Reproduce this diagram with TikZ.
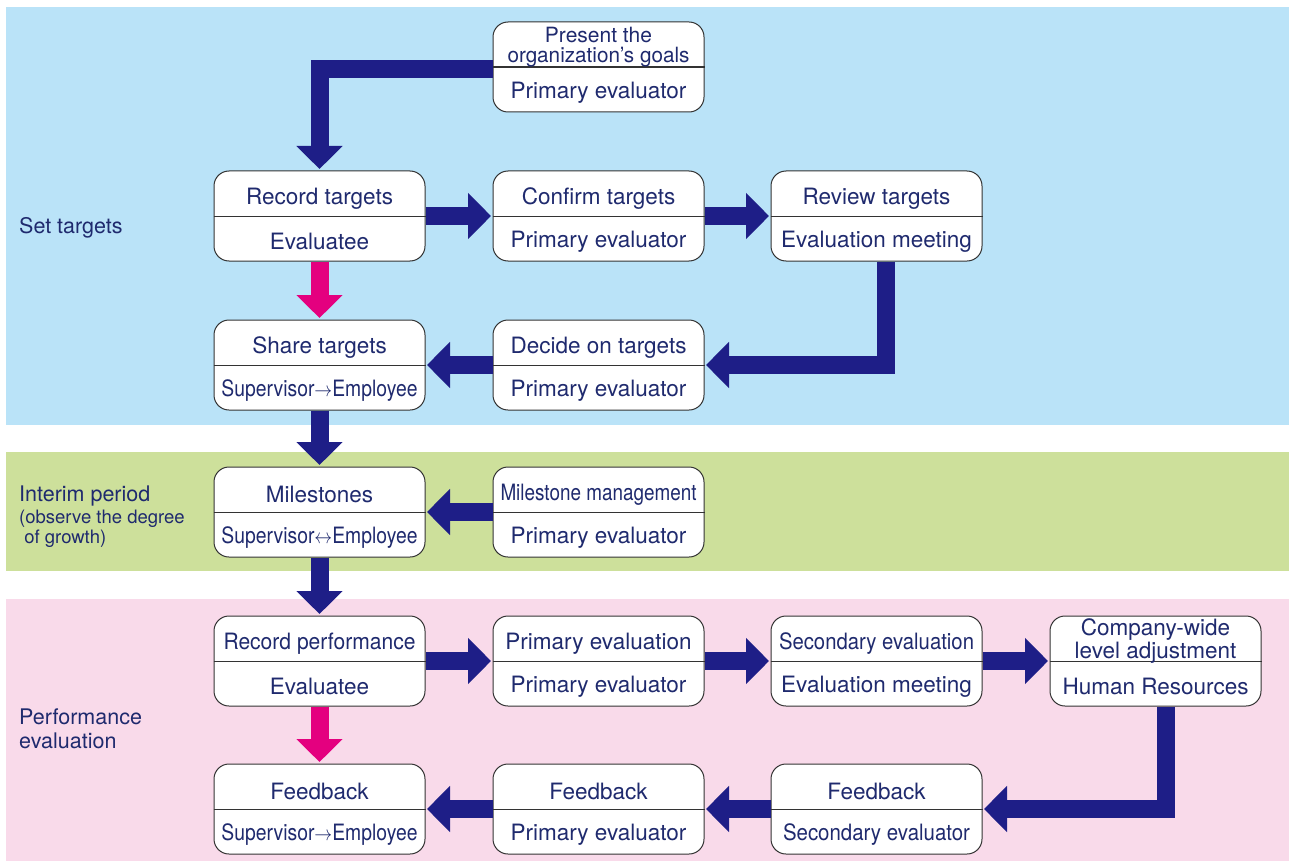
\documentclass[tikz,border=0pt]{standalone}
\usepackage{fontspec}
\setmainfont{TeX Gyre Heros}
\usetikzlibrary{arrows.meta}
\definecolor{bandblue}{HTML}{BAE3F8}
\definecolor{bandgreen}{HTML}{CDE09B}
\definecolor{bandpink}{HTML}{F9DAEA}
\definecolor{navy}{HTML}{1E1E87}
\definecolor{txt}{HTML}{1F2A6E}
\definecolor{mag}{HTML}{E4007F}
\newcommand\sqz[2]{\resizebox{#1pt}{\height}{#2}}
\newcommand\flowbox[5]{%
  \node[fbox] (#1) at (#2+105.5,#3+45) {};
  \draw[divider] (#1.west) -- (#1.east);
  \node[lbl] (#1-t) at (#2+105.5,#3+27.5) {#4};
  \node[lbl] (#1-b) at (#2+105.5,#3+70.5) {#5};
}
\begin{document}
\begin{tikzpicture}[x=1pt,y=-1pt,
  fbox/.style={draw=black!80, line width=1pt, fill=white, rounded corners=15pt,
    minimum width=211pt, minimum height=90pt, inner sep=0pt},
  divider/.style={draw=black!80, line width=1pt},
  lbl/.style={text=txt, font=\fontsize{22.5}{20}\selectfont, inner sep=0pt, align=center},
  sec/.style={text=txt, font=\fontsize{21.5}{24}\selectfont, inner sep=0pt, anchor=west, align=left},
  barrow/.style={draw=navy, line width=18pt, line join=miter, line cap=butt,
    -{Triangle[length=23pt,width=45pt]}, shorten >=1.5pt},
  parrow/.style={barrow, draw=mag}
]
\useasboundingbox (0,0) rectangle (1289,861);
\fill[white] (0,0) rectangle (1289,861);
% bands
\fill[bandblue] (6,7) rectangle (1289,425);
\fill[bandgreen] (6,452) rectangle (1289,571);
\fill[bandpink] (6,599) rectangle (1289,861);
% section labels
\node[sec] (s1) at (19,228) {Set targets};
\node[sec] (s2) at (19,496) {Interim period};
\node[sec, font=\fontsize{18.5}{20}\selectfont] (s2b) at (19,529) {(observe the degree\\\ of growth)};
\node[sec] (s3) at (19,729) {Performance\\evaluation};
% boxes
\flowbox{pg}{493}{22}{}{Primary evaluator}
\node[lbl, font=\fontsize{21}{19.5}\selectfont] (pg-x) at (598.5,47) {Present the\\\sqz{182}{organization’s goals}};
\draw[divider] (pg.west |- 0,68) -- (pg.east |- 0,68);
\flowbox{rt}{214}{171}{Record targets}{Evaluatee}
\flowbox{ct}{493}{171}{Confirm targets}{Primary evaluator}
\flowbox{rv}{771}{171}{Review targets}{Evaluation meeting}
\flowbox{sh}{214}{320}{Share targets}{\sqz{196}{Supervisor$\rightarrow$Employee}}
\flowbox{dt}{493}{320}{Decide on targets}{Primary evaluator}
\flowbox{ms}{214}{467}{Milestones}{\sqz{196}{Supervisor$\leftrightarrow$Employee}}
\flowbox{mm}{493}{467}{\sqz{196}{Milestone management}}{Primary evaluator}
\flowbox{rp}{214}{616}{\sqz{192}{Record performance}}{Evaluatee}
\flowbox{pe}{493}{616}{Primary evaluation}{Primary evaluator}
\flowbox{se}{771}{616}{\sqz{195}{Secondary evaluation}}{Evaluation meeting}
\flowbox{cw}{1050}{616}{}{Human Resources}
\node[lbl] (cw-x) at (1155.5,641) {Company-wide\\level adjustment};
\flowbox{f1}{214}{764}{Feedback}{\sqz{196}{Supervisor$\rightarrow$Employee}}
\flowbox{f2}{493}{764}{Feedback}{Primary evaluator}
\flowbox{f3}{771}{764}{Feedback}{\sqz{187}{Secondary evaluator}}
% arrows
\draw[barrow] (pg.west |- 0,69) -| (rt.north);
\draw[barrow] (rt.east) -- (ct.west);
\draw[barrow] (ct.east) -- (rv.west);
\draw[barrow] ([xshift=9.5pt]rv.south) |- (dt.east);
\draw[parrow] (rt.south) -- (sh.north);
\draw[barrow] (dt.west) -- (sh.east);
\draw[barrow] (sh.south) -- (ms.north);
\draw[barrow] (mm.west) -- (ms.east);
\draw[barrow] (ms.south) -- (rp.north);
\draw[barrow] (rp.east) -- (pe.west);
\draw[barrow] (pe.east) -- (se.west);
\draw[barrow] (se.east) -- (cw.west);
\draw[parrow] (rp.south) -- (f1.north);
\draw[barrow] ([xshift=10pt]cw.south) |- (f3.east);
\draw[barrow] (f3.west) -- (f2.east);
\draw[barrow] (f2.west) -- (f1.east);
\end{tikzpicture}
\end{document}
